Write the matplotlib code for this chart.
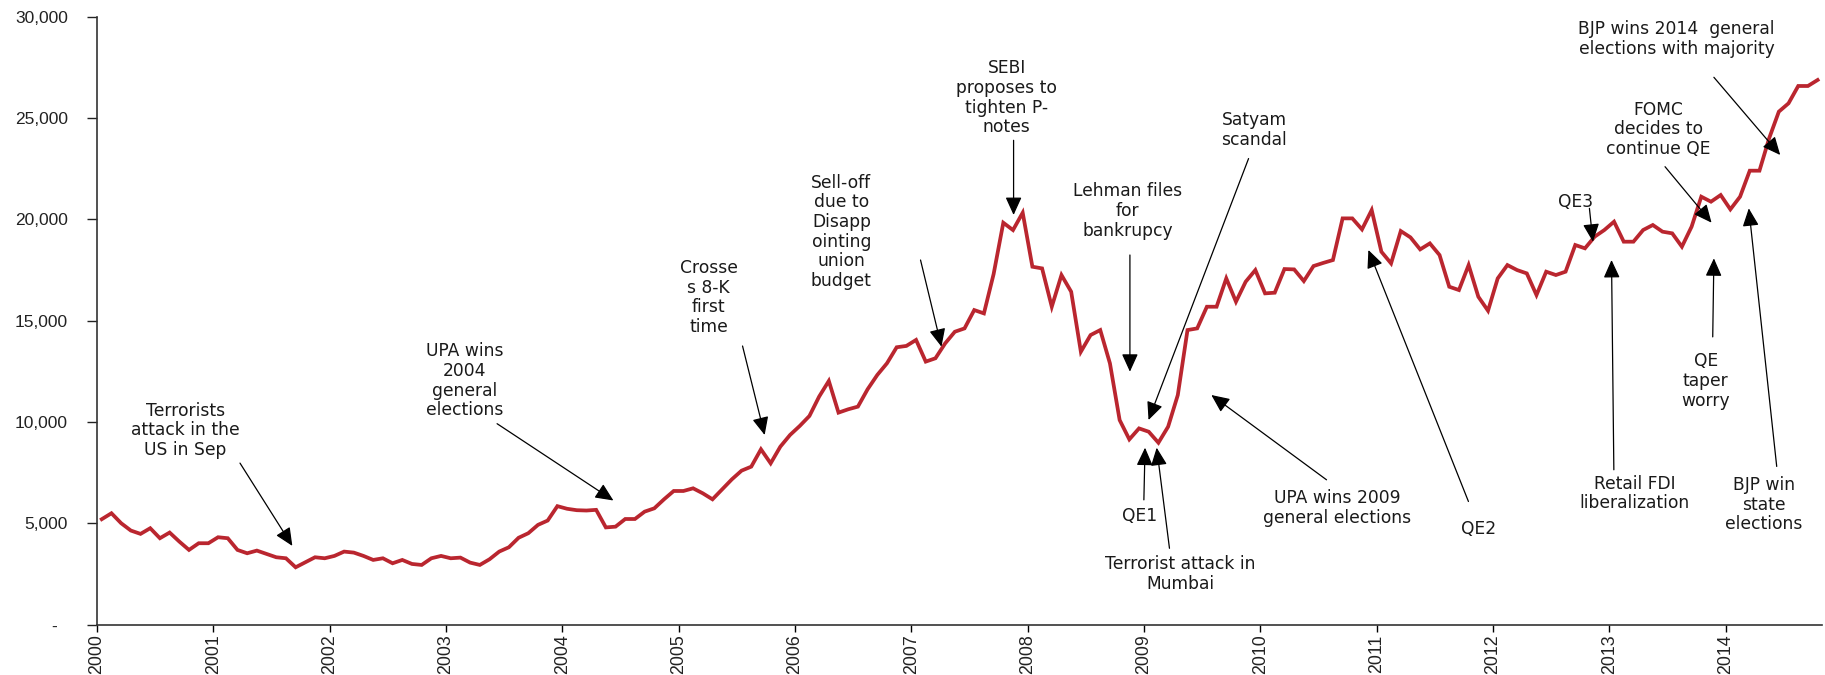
import numpy as np
import matplotlib
matplotlib.use("Agg")
import matplotlib.pyplot as plt
from matplotlib.ticker import FuncFormatter

plt.rcParams['font.family'] = ['Liberation Sans', 'DejaVu Sans']

# Monthly index level, Jan 2000 .. Oct 2014
start_year = 2000
values_2000 = [5206, 5500, 5008, 4646, 4481, 4761, 4267, 4547, 4102, 3690, 4020, 4020]
values_2001 = [4316, 4267, 3690, 3525, 3657, 3492, 3328, 3278, 2833, 3080, 3328, 3278]
values_2002 = [3394, 3608, 3558, 3394, 3196, 3278, 3031, 3196, 2998, 2949, 3278, 3394]
values_2003 = [3278, 3311, 3064, 2949, 3229, 3608, 3822, 4290, 4514, 4926, 5140, 5850]
values_2004 = [5720, 5650, 5634, 5667, 4800, 4838, 5216, 5216, 5579, 5743, 6187, 6598]
values_2005 = [6598, 6730, 6483, 6187, 6680, 7174, 7601, 7799, 8654, 7963, 8786, 9362]
values_2006 = [9806, 10300, 11254, 12027, 10464, 10629, 10760, 11616, 12323, 12899, 13689, 13755]
values_2007 = [14051, 12981, 13146, 13880, 14455, 14620, 15525, 15360, 17300, 19833, 19471, 20327]
values_2008 = [17663, 17580, 15689, 17252, 16430, 13469, 14291, 14538, 12893, 10098, 9144, 9686]
values_2009 = [9522, 8979, 9769, 11332, 14538, 14620, 15689, 15689, 17087, 15936, 16923, 17498]
values_2010 = [16348, 16381, 17548, 17531, 16955, 17696, 17850, 17992, 20048, 20048, 19505, 20459]
values_2011 = [18403, 17827, 19422, 19110, 18518, 18814, 18239, 16676, 16512, 17745, 16183, 15492]
values_2012 = [17087, 17745, 17498, 17334, 16266, 17418, 17253, 17418, 18734, 18570, 19145, 19474]
values_2013 = [19885, 18898, 18898, 19474, 19721, 19392, 19310, 18652, 19638, 21118, 20871, 21200]
values_2014 = [20493, 21118, 22401, 22401, 24000, 25314, 25725, 26580, 26580, 26876]

year_ticks = list(range(2000, 2015))
y_ticks = [0, 5000, 10000, 15000, 20000, 25000, 30000]

# Annotations: text, text position (year, level), arrow tail, arrow tip
ann_texts = [
    "Terrorists\nattack in the\nUS in Sep",
    "UPA wins\n2004\ngeneral\nelections",
    "Crosse\ns 8-K\nfirst\ntime",
    "Sell-off\ndue to\nDisapp\nointing\nunion\nbudget",
    "SEBI\nproposes to\ntighten P-\nnotes",
    "Lehman files\nfor\nbankrupcy",
    "Satyam\nscandal",
    "QE1",
    "Terrorist attack in\nMumbai",
    "UPA wins 2009\ngeneral elections",
    "QE2",
    "QE3",
    "FOMC\ndecides to\ncontinue QE",
    "BJP wins 2014  general\nelections with majority",
    "Retail FDI\nliberalization",
    "QE\ntaper\nworry",
    "BJP win\nstate\nelections",
]
ann_text_pos = [
    (2000.76, 9590), (2003.16, 12030), (2005.26, 16145), (2006.40, 19390),
    (2007.82, 26000), (2008.86, 20412), (2009.95, 24415), (2008.96, 5370),
    (2009.31, 2490), (2010.66, 5766), (2011.88, 4710), (2012.71, 20871),
    (2013.42, 24443), (2013.58, 28884), (2013.22, 6470), (2013.83, 12030),
    (2014.33, 5925),
]
ann_tail = [
    (2001.23, 7974), (2003.44, 9918), (2005.55, 13751), (2007.08, 17994),
    (2007.88, 23900), (2008.88, 18241), (2009.90, 23000), (2009.00, 6160),
    (2009.22, 3770), (2010.57, 7150), (2011.79, 6080), (2012.83, 20544),
    (2013.48, 22598), (2013.90, 27009), (2013.04, 7644), (2013.89, 14201),
    (2014.44, 7809),
]
ann_tip = [
    (2001.68, 3888), (2004.44, 6129), (2005.74, 9360), (2007.26, 13717),
    (2007.88, 20215), (2008.88, 12483), (2009.04, 10100), (2009.01, 8734),
    (2009.11, 8734), (2009.58, 11333), (2010.93, 18488), (2012.86, 18898),
    (2013.88, 19835), (2014.47, 23176), (2013.02, 17994), (2013.90, 18076),
    (2014.20, 20544),
]

values = (values_2000 + values_2001 + values_2002 + values_2003 + values_2004 +
          values_2005 + values_2006 + values_2007 + values_2008 + values_2009 +
          values_2010 + values_2011 + values_2012 + values_2013 + values_2014)
x = start_year + (np.arange(len(values)) + 0.5) / 12.0

fig = plt.figure(figsize=(18.25, 6.75), dpi=100)
ax = fig.add_axes([0.0531, 0.0745, 0.9453, 0.9008])

ax.plot(x, values, color='#BA262F', lw=2.7, solid_joinstyle='miter', zorder=3)

ax.set_xlim(2000, 2014.83)
ax.set_ylim(0, 30000)
ax.set_xticks(year_ticks)
ax.set_xticklabels([str(y) for y in year_ticks], rotation=90, fontsize=12.8, color='#222222')
ax.set_yticks(y_ticks)
ax.yaxis.set_major_formatter(FuncFormatter(lambda v, p: '-  ' if v == 0 else f'{v:,.0f}'))
ax.tick_params(axis='y', labelsize=12.5, colors='#222222', length=7, width=1.0, pad=14)
ax.tick_params(axis='x', length=5, width=1.0, pad=2)
for s in ['top', 'right']:
    ax.spines[s].set_visible(False)
for s in ['left', 'bottom']:
    ax.spines[s].set_color('#333333')
    ax.spines[s].set_linewidth(1.2)

for txt, tp, tail, tip in zip(ann_texts, ann_text_pos, ann_tail, ann_tip):
    ax.text(tp[0], tp[1], txt, ha='center', va='center', fontsize=12.3,
            family=['DejaVu Sans'], color='#1a1a1a', linespacing=1.12, zorder=4)
    ax.annotate('', xy=tip, xytext=tail,
                arrowprops=dict(arrowstyle='-|>,head_length=0.55,head_width=0.25',
                                color='black', lw=0.9, mutation_scale=20,
                                shrinkA=0, shrinkB=0), zorder=5)

fig.savefig('out.png', dpi=100)
